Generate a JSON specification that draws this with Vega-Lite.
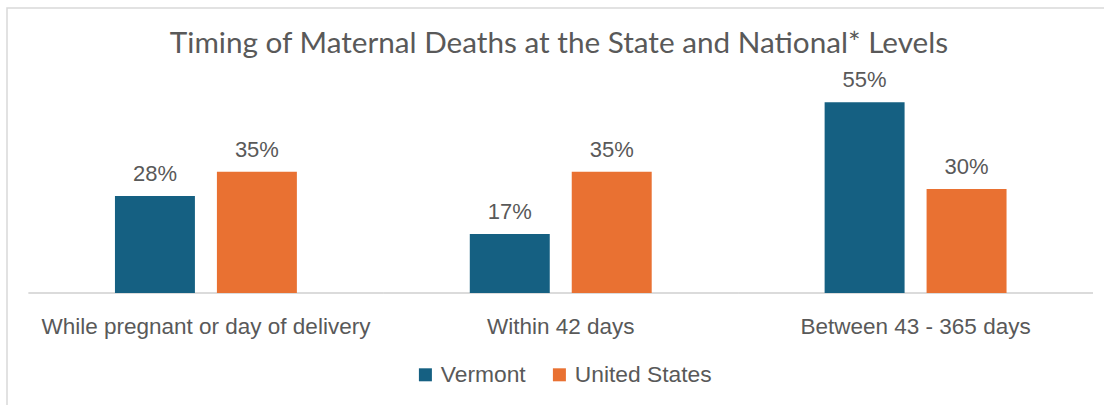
{
  "$schema": "https://vega.github.io/schema/vega-lite/v6.json",
  "autosize": "none",
  "width": 1104,
  "height": 400,
  "padding": {"left": 7, "top": 8, "right": 0, "bottom": 0},
  "background": "white",
  "title": {
    "text": "Timing of Maternal Deaths at the State and National* Levels",
    "font": "Lato",
    "fontSize": 29.7,
    "fontWeight": "normal",
    "color": "#595959",
    "anchor": "middle",
    "frame": "group",
    "baseline": "alphabetic",
    "offset": -45,
    "dy": 30
  },
  "config": {
    "view": {"stroke": "#d9d9d9", "strokeWidth": 1.5},
    "font": "Liberation Sans"
  },
  "data": {
    "values": [
      {"category": "While pregnant or day of delivery", "series": "Vermont", "value": 0.28},
      {"category": "While pregnant or day of delivery", "series": "United States", "value": 0.35},
      {"category": "Within 42 days", "series": "Vermont", "value": 0.17},
      {"category": "Within 42 days", "series": "United States", "value": 0.35},
      {"category": "Between 43 - 365 days", "series": "Vermont", "value": 0.55},
      {"category": "Between 43 - 365 days", "series": "United States", "value": 0.30}
    ]
  },
  "encoding": {
    "x": {
      "field": "category",
      "type": "nominal",
      "sort": ["While pregnant or day of delivery", "Within 42 days", "Between 43 - 365 days"],
      "scale": {"range": [21.5, 1086], "paddingInner": 0, "paddingOuter": 0},
      "axis": {
        "title": null,
        "orient": "bottom",
        "offset": -115,
        "domain": false,
        "ticks": false,
        "labelAngle": 0,
        "labelFontSize": 22.5,
        "labelColor": "#595959",
        "labelPadding": 22,
        "labelLimit": 0
      }
    }
  },
  "layer": [
    {
      "mark": {"type": "rect", "fill": null, "stroke": "#d9d9d9", "strokeWidth": 1.5},
      "encoding": {
        "y": {"datum": 0, "type": "quantitative", "scale": {"domain": [0, 0.6], "range": [285, 77]}, "axis": null},
        "y2": {"datum": 0}
      }
    },
    {
      "mark": {"type": "bar"},
      "encoding": {
        "xOffset": {
          "field": "series",
          "type": "nominal",
          "sort": ["Vermont", "United States"],
          "scale": {"paddingInner": 0.2157, "paddingOuter": 0.848}
        },
        "y": {"field": "value", "type": "quantitative", "scale": {"domain": [0, 0.6], "range": [285, 77]}, "axis": null},
        "color": {
          "field": "series",
          "type": "nominal",
          "sort": ["Vermont", "United States"],
          "scale": {"domain": ["Vermont", "United States"], "range": ["#156082", "#E97132"]},
          "legend": {
            "title": null,
            "orient": "none",
            "direction": "horizontal",
            "legendX": 407,
            "legendY": 355,
            "symbolType": "square",
            "symbolSize": 169,
            "symbolStrokeWidth": 0,
            "labelFontSize": 22.8,
            "labelColor": "#595959",
            "labelOffset": 4,
            "columnPadding": 22,
            "padding": 0
          }
        }
      }
    },
    {
      "mark": {"type": "text", "baseline": "alphabetic", "dy": -15, "fontSize": 22, "color": "#595959"},
      "encoding": {
        "xOffset": {
          "field": "series",
          "type": "nominal",
          "sort": ["Vermont", "United States"],
          "scale": {"paddingInner": 0.2157, "paddingOuter": 0.848}
        },
        "y": {"field": "value", "type": "quantitative", "scale": {"domain": [0, 0.6], "range": [285, 77]}, "axis": null},
        "text": {"field": "value", "type": "quantitative", "format": ".0%"}
      }
    }
  ]
}
